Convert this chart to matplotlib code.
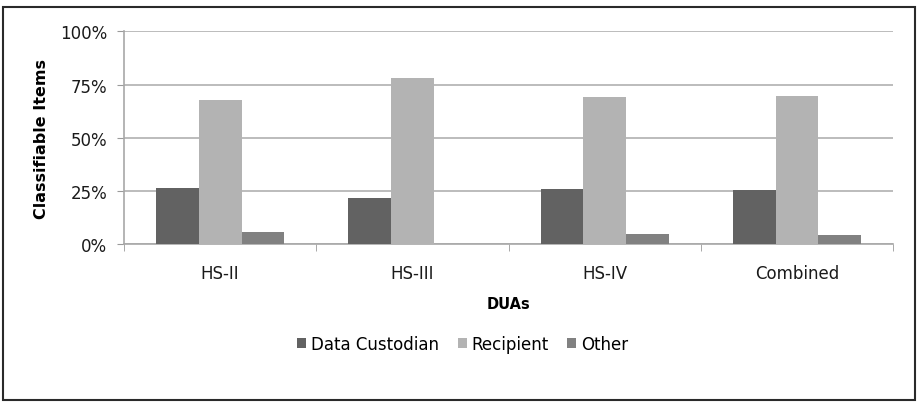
import numpy as np
import matplotlib
matplotlib.use('Agg')
import matplotlib.pyplot as plt
from matplotlib.patches import Rectangle
from matplotlib.ticker import PercentFormatter

# data (percent of classifiable items)
categories = ['HS-II', 'HS-III', 'HS-IV', 'Combined']
data_custodian = [26.5, 21.7, 25.9, 25.6]
recipient = [67.6, 78.3, 69.2, 69.8]
other = [5.7, 0.0, 4.8, 4.5]

series = [('Data Custodian', data_custodian, '#626262'),
          ('Recipient', recipient, '#b3b3b3'),
          ('Other', other, '#818181')]

plt.rcParams['font.family'] = 'DejaVu Sans'

fig = plt.figure(figsize=(9.22, 4.06), dpi=100)
ax = fig.add_axes([124/922, 1 - 245.3/406, 769.3/922, 213/406])

x = np.arange(len(categories))
w = 0.222
for i, (name, vals, col) in enumerate(series):
    ax.bar(x + (i - 1) * w, vals, w, color=col, label=name, zorder=3)

ax.set_xlim(-0.5, len(categories) - 0.5)
ax.set_ylim(0, 100)
ax.set_yticks([0, 25, 50, 75, 100])
ax.yaxis.set_major_formatter(PercentFormatter(decimals=0))
ax.set_xticks(x)
ax.set_xticklabels(categories)
ax.set_xticks(np.arange(-0.5, len(categories), 1.0), minor=True)
ax.tick_params(axis='x', which='major', length=0, pad=14.5, labelsize=12, labelcolor='#1a1a1a')
ax.tick_params(axis='x', which='minor', length=5, color='#9a9a9a', direction='out')
ax.tick_params(axis='y', length=5, color='#9a9a9a', labelsize=12, pad=7, labelcolor='#1a1a1a')

ax.grid(axis='y', color='#b0b0b0', linewidth=1.2, zorder=0)
for s in ['top', 'right']:
    ax.spines[s].set_visible(False)
for s in ['left', 'bottom']:
    ax.spines[s].set_color('#a8a8a8')
    ax.spines[s].set_linewidth(1.2)

ax.set_ylabel('Classifiable Items', fontweight='bold', fontsize=11.5, labelpad=8)
ax.set_xlabel('DUAs', fontweight='bold', fontsize=10.5, labelpad=9.5)

fig.legend(loc='center', bbox_to_anchor=(0.502, 1 - 345/406), ncol=3, frameon=False,
           fontsize=12, handlelength=0.55, handleheight=0.6, handletextpad=0.3,
           columnspacing=1.1, borderpad=0.2)

# outer chart frame
fig.patches.append(Rectangle((3/922, 1 - 401/406), 912/922, 393/406,
                             transform=fig.transFigure, fill=False,
                             edgecolor='#2a2a2a', linewidth=1.5))

fig.savefig('out.png', dpi=100)
